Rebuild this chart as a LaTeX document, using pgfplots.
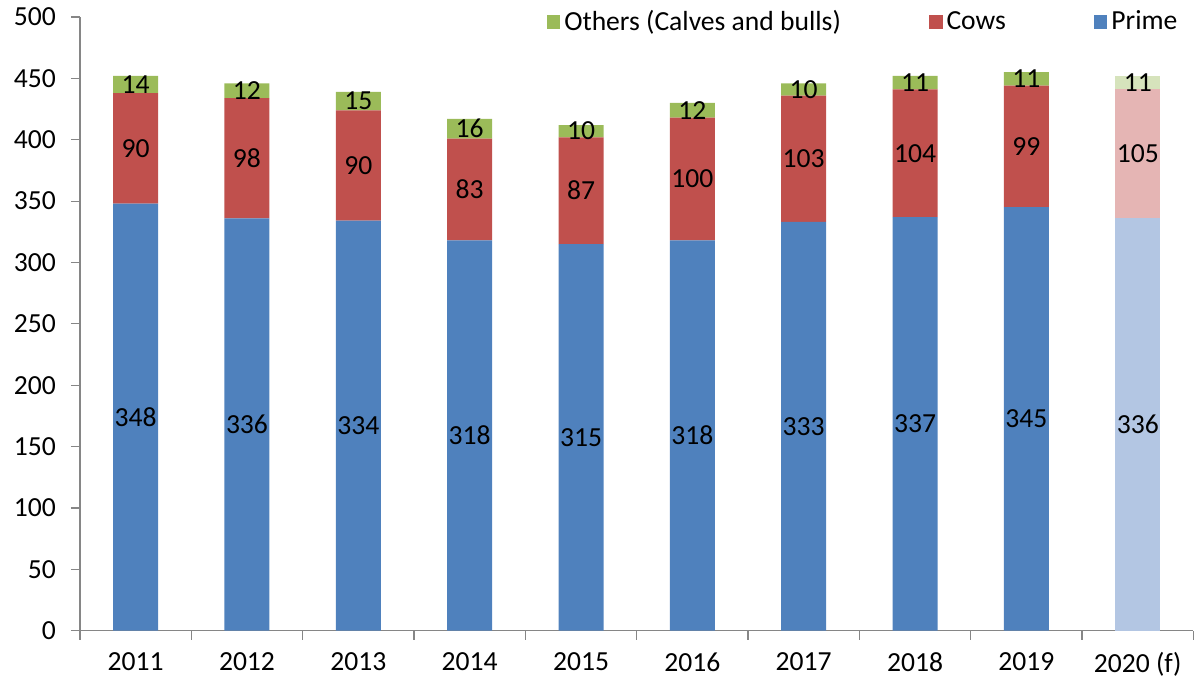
\documentclass[border=0pt]{standalone}
\usepackage{pgfplots}
\usepackage{pgfplotstable}
\pgfplotsset{compat=1.18}
\usepackage{fontspec}
\setmainfont{Carlito}
\definecolor{prime}{HTML}{4F81BD}
\definecolor{cows}{HTML}{C0504D}
\definecolor{others}{HTML}{9BBB59}
\definecolor{primef}{HTML}{B3C6E3}
\definecolor{cowsf}{HTML}{E5B5B4}
\definecolor{othersf}{HTML}{D6E3BC}
\definecolor{axisgray}{HTML}{868686}
\pgfplotstableread{
x p c o
0 348 90 14
1 336 98 12
2 334 90 15
3 318 83 16
4 315 87 10
5 318 100 12
6 333 103 10
7 337 104 11
8 345 99 11
}\maindata
\pgfplotstableread{
x p c o
9 336 105 11
}\fdata
\newcommand{\chartfont}{\fontsize{13.8}{16}\selectfont}
\pgfplotsset{
  base/.style={
    scale only axis, width=557pt, height=307pt,
    xmin=-0.5, xmax=9.5, ymin=0, ymax=500,
    ybar stacked, bar width=22.5pt,
    point meta=explicit,
    /pgf/number format/assume math mode=true,
    nodes near coords,
    every node near coord/.append style={anchor=center, font=\chartfont, text=black},
  },
}
\begin{document}
\begin{tikzpicture}
\begin{axis}[base, name=ax,
  axis x line*=bottom, axis y line*=left,
  axis line style={draw=axisgray, line width=0.6pt},
  ytick={0,50,...,500},
  xtick={0,...,9},
  xticklabels={2011,2012,2013,2014,2015,2016,2017,2018,2019,2020 (f)},
  minor xtick={-0.5,0.5,...,9.5},
  tick align=outside,
  major tick length=4.5pt, minor tick length=4.5pt,
  major x tick style={draw=none},
  tick style={draw=axisgray, line width=0.6pt},
  minor x tick style={draw=axisgray, line width=0.6pt},
  tick label style={font=\chartfont},
  yticklabel style={xshift=-4pt},
  xticklabel style={yshift=-3pt},
  reverse legend,
  legend columns=3,
  legend style={draw=none, fill=none, font=\chartfont, at={(rel axis cs:0.995,0.992)}, anchor=east,
    /tikz/every even column/.append style={column sep=42pt}},
  legend image code/.code={\fill[#1] (0pt,-3.4pt) rectangle (6.8pt,3.4pt);},
]
\addplot[fill=prime, draw=none] table[x=x, y=p, meta=p] {\maindata};
\addlegendentry{Prime}
\addplot[fill=cows, draw=none] table[x=x, y=c, meta=c] {\maindata};
\addlegendentry{Cows}
\addplot[fill=others, draw=none] table[x=x, y=o, meta=o] {\maindata};
\addlegendentry{Others (Calves and bulls)}
\end{axis}
\begin{axis}[base, hide axis]
\addplot[fill=primef, draw=none] table[x=x, y=p, meta=p] {\fdata};
\addplot[fill=cowsf, draw=none] table[x=x, y=c, meta=c] {\fdata};
\addplot[fill=othersf, draw=none] table[x=x, y=o, meta=o] {\fdata};
\end{axis}
\path ([shift={(-40pt,-24pt)}]ax.south west) rectangle ([shift={(0pt,8.5pt)}]ax.north east);
\end{tikzpicture}
\end{document}
